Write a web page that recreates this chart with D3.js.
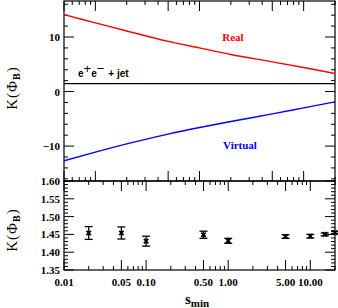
<!DOCTYPE html>
<html>
<head>
<meta charset="utf-8">
<script src="https://cdn.jsdelivr.net/npm/d3@7"></script>
<style>
  body { margin: 0; background: #fff; }
  svg { display: block; }
  .tick-label { font-family: "Liberation Serif", serif; font-weight: bold; font-size: 11px; }
</style>
</head>
<body>
<svg id="chart" width="338" height="308"></svg>
<script>
// values
const curveS = [0.005, 0.01, 0.02, 0.05, 0.1, 0.2, 0.5, 1, 2];
const realK = [14.1, 12.6, 11.1, 9.2, 8.0, 6.8, 5.45, 4.4, 3.3];
const virtualK = [-12.7, -11.1, -9.6, -7.8, -6.6, -5.5, -4.1, -3.0, -1.9];
const totalK = 1.45;

const sMin = [0.02, 0.05, 0.1, 0.5, 1, 5, 10, 15, 20];
const kVal = [1.454, 1.454, 1.431, 1.449, 1.432, 1.444, 1.445, 1.450, 1.455];
const kErr = [0.018, 0.017, 0.014, 0.010, 0.007, 0.005, 0.005, 0.004, 0.003];

const xTickVals = [0.01, 0.05, 0.1, 0.5, 1, 5, 10];
const xTickText = ["0.01", "0.05", "0.10", "0.50", "1.00", "5.00", "10.00"];
const topYTicks = [-10, 0, 10];
const botYTicks = [1.35, 1.40, 1.45, 1.50, 1.55, 1.60];

const svg = d3.select("#chart");
const left = 64, right = 335;
const top1 = 1, mid = 181, bot = 270;

// scales
const xTop = d3.scaleLog().domain([0.005, 2]).range([left, right]);
const xBot = d3.scaleLog().domain([0.01, 20]).range([left, right]);
const yTop = d3.scaleLinear().domain([-16.4, 16.6]).range([mid, top1]);
const yBot = d3.scaleLinear().domain([1.35, 1.60]).range([bot, mid]);

// log minor ticks for a scale
function logTicks(x) {
  const [a, b] = x.domain();
  const out = [];
  for (let e = Math.floor(Math.log10(a)); e <= Math.ceil(Math.log10(b)); e++) {
    for (let m = 1; m <= 9; m++) {
      const v = m * Math.pow(10, e);
      if (v >= a * 0.999 && v <= b * 1.001) out.push({ v: v, major: m === 1 || m === 5 });
    }
  }
  return out;
}

function xTicks(x, y0, dir) {
  svg.append("g").selectAll("line")
    .data(logTicks(x))
    .join("line")
    .attr("x1", d => x(d.v)).attr("x2", d => x(d.v))
    .attr("y1", y0).attr("y2", d => y0 + dir * (d.major ? 10 : 4))
    .attr("stroke", "#000").attr("stroke-width", 1);
}

function yTicks(y, step, majorEvery, x0, dir) {
  const [a, b] = y.domain();
  const vals = [];
  for (let v = Math.ceil(a / step - 1e-6) * step; v <= b + 1e-9; v += step) vals.push(+v.toFixed(4));
  svg.append("g").selectAll("line")
    .data(vals)
    .join("line")
    .attr("x1", x0)
    .attr("x2", d => x0 + dir * (Math.abs(d / majorEvery - Math.round(d / majorEvery)) < 1e-6 ? 10 : 4))
    .attr("y1", d => y(d)).attr("y2", d => y(d))
    .attr("stroke", "#000").attr("stroke-width", 1);
}

// top panel ticks
xTicks(xTop, top1, 1);
xTicks(xTop, mid, -1);
yTicks(yTop, 2, 10, left, 1);
yTicks(yTop, 2, 10, right, -1);

// bottom panel ticks
xTicks(xBot, mid, 1);
xTicks(xBot, bot, -1);
yTicks(yBot, 0.01, 0.05, left, 1);
yTicks(yBot, 0.01, 0.05, right, -1);

// frames
[[top1, mid], [mid, bot]].forEach(([a, b]) => {
  svg.append("rect")
    .attr("x", left).attr("y", a)
    .attr("width", right - left).attr("height", b - a)
    .attr("fill", "none").attr("stroke", "#000").attr("stroke-width", 1.2);
});

// curves
svg.append("clipPath").attr("id", "clipTop")
  .append("rect").attr("x", left).attr("y", top1).attr("width", right - left).attr("height", mid - top1);

const line = d3.line()
  .x((d, i) => xTop(curveS[i]))
  .y(d => yTop(d))
  .curve(d3.curveMonotoneX);

svg.append("path").datum(realK)
  .attr("d", line).attr("fill", "none")
  .attr("stroke", "#ff0000").attr("stroke-width", 1.4)
  .attr("clip-path", "url(#clipTop)");

svg.append("path").datum(virtualK)
  .attr("d", line).attr("fill", "none")
  .attr("stroke", "#0000ff").attr("stroke-width", 1.4)
  .attr("clip-path", "url(#clipTop)");

svg.append("line")
  .attr("x1", left).attr("x2", right)
  .attr("y1", yTop(totalK)).attr("y2", yTop(totalK))
  .attr("stroke", "#000").attr("stroke-width", 1.4);

// labels in top panel
svg.append("text")
  .attr("x", 233).attr("y", 41)
  .attr("text-anchor", "middle")
  .attr("fill", "#ff0000")
  .style("font-family", "Liberation Serif, serif").style("font-weight", "bold").style("font-size", "11px")
  .text("Real");

svg.append("text")
  .attr("x", 240).attr("y", 149)
  .attr("text-anchor", "middle")
  .attr("fill", "#0000ff")
  .style("font-family", "Liberation Serif, serif").style("font-weight", "bold").style("font-size", "11px")
  .text("Virtual");

const ee = svg.append("text")
  .attr("x", 78).attr("y", 77)
  .style("font-family", "Liberation Sans, sans-serif").style("font-weight", "bold").style("font-size", "10px");
ee.append("tspan").text("e");
ee.append("tspan").attr("dy", -4).style("font-size", "13px").style("font-weight", "normal").text("+");
ee.append("tspan").attr("dy", 4).text("e");
ee.append("tspan").attr("dy", -4).style("font-size", "13px").style("font-weight", "normal").text("\u2212");
ee.append("tspan").attr("dy", 4).attr("dx", 4).text("+ jet");

// error bars
const pts = sMin.map((s, i) => ({ s: s, k: kVal[i], e: kErr[i] }));
const g = svg.append("g").attr("stroke", "#000").attr("stroke-width", 1.3);
g.selectAll(".bar").data(pts).join("line")
  .attr("x1", d => xBot(d.s)).attr("x2", d => xBot(d.s))
  .attr("y1", d => yBot(d.k - d.e)).attr("y2", d => yBot(d.k + d.e));
g.selectAll(".capHi").data(pts).join("line")
  .attr("x1", d => xBot(d.s) - 4).attr("x2", d => xBot(d.s) + 4)
  .attr("y1", d => yBot(d.k + d.e)).attr("y2", d => yBot(d.k + d.e));
g.selectAll(".capLo").data(pts).join("line")
  .attr("x1", d => xBot(d.s) - 4).attr("x2", d => xBot(d.s) + 4)
  .attr("y1", d => yBot(d.k - d.e)).attr("y2", d => yBot(d.k - d.e));
g.selectAll(".mark").data(pts).join("path")
  .attr("d", d => {
    const x = xBot(d.s), y = yBot(d.k), r = 2.2;
    return `M${x - r},${y - r}L${x + r},${y + r}M${x - r},${y + r}L${x + r},${y - r}`;
  })
  .attr("stroke-width", 1.8);

// tick labels
svg.append("g").selectAll("text").data(topYTicks).join("text")
  .attr("class", "tick-label")
  .attr("x", 60).attr("y", d => yTop(d) + 4)
  .attr("text-anchor", "end")
  .text(d => d < 0 ? "\u2212" + Math.abs(d) : d);

svg.append("g").selectAll("text").data(botYTicks).join("text")
  .attr("class", "tick-label")
  .attr("x", 60).attr("y", d => yBot(d) + 4)
  .attr("text-anchor", "end")
  .text(d => d3.format(".2f")(d));

svg.append("g").selectAll("text").data(xTickVals).join("text")
  .attr("class", "tick-label")
  .attr("x", d => xBot(d)).attr("y", 286)
  .attr("text-anchor", "middle")
  .text((d, i) => xTickText[i]);

// axis titles
const sx = svg.append("text")
  .attr("x", 185).attr("y", 304)
  .style("font-family", "Liberation Serif, serif").style("font-weight", "bold").style("font-size", "15px");
sx.append("tspan").text("s");
sx.append("tspan").attr("dy", 3).style("font-size", "11px").text("min");

[88, 230].forEach(cy => {
  const t = svg.append("text")
    .attr("transform", `translate(17,${cy}) rotate(-90)`)
    .attr("text-anchor", "middle")
    .style("font-family", "Liberation Serif, serif").style("font-size", "15px")
    .style("letter-spacing", "1px");
  t.append("tspan").text("K(\u03A6");
  t.append("tspan").attr("dy", 3).style("font-size", "10px").style("font-weight", "bold").text("B");
  t.append("tspan").attr("dy", -3).text(")");
});
</script>
</body>
</html>
